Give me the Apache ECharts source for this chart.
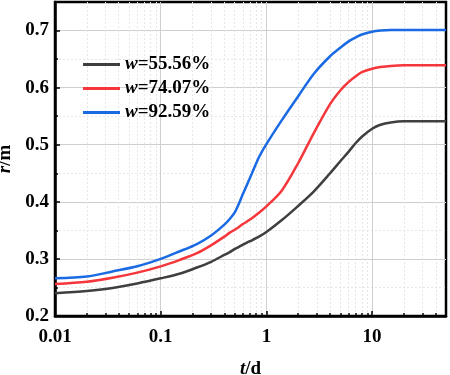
<!DOCTYPE html>
<html>
<head>
<meta charset="utf-8">
<script src="https://cdn.jsdelivr.net/npm/echarts@6.0.0/dist/echarts.min.js"></script>
<style>
  html, body { margin: 0; padding: 0; background: #fff; }
  #chart { width: 450px; height: 375px; }
</style>
</head>
<body>
<div id="chart"></div>
<script>
const chart = echarts.init(document.getElementById('chart'))

// t/d
const tValues = [0.01, 0.02, 0.035, 0.06, 0.1, 0.15, 0.22, 0.3, 0.4, 0.45, 0.5, 0.55, 0.6, 0.7, 0.85, 1, 1.4, 2, 2.8, 4, 5, 6, 7, 8, 10, 12, 15, 20, 50]
// r/m
const w5556 = [0.240, 0.244, 0.249, 0.257, 0.266, 0.274, 0.285, 0.295, 0.307, 0.312, 0.317, 0.321, 0.325, 0.331, 0.339, 0.347, 0.368, 0.393, 0.418, 0.450, 0.471, 0.488, 0.503, 0.514, 0.528, 0.535, 0.539, 0.541, 0.541]
const w7407 = [0.256, 0.260, 0.267, 0.276, 0.287, 0.298, 0.310, 0.324, 0.339, 0.346, 0.351, 0.356, 0.361, 0.369, 0.381, 0.392, 0.420, 0.468, 0.520, 0.571, 0.595, 0.610, 0.620, 0.627, 0.633, 0.636, 0.638, 0.639, 0.639]
const w9259 = [0.266, 0.269, 0.278, 0.287, 0.300, 0.313, 0.326, 0.341, 0.360, 0.370, 0.381, 0.397, 0.414, 0.442, 0.478, 0.501, 0.543, 0.585, 0.624, 0.655, 0.670, 0.681, 0.688, 0.693, 0.698, 0.700, 0.701, 0.701, 0.701]

const seriesNames = ['w=55.56%', 'w=74.07%', 'w=92.59%']
const seriesColors = ['#3f3f3f', '#f5363b', '#1a6be3']

// 刻度
const xMinorTicks = [0.02, 0.03, 0.04, 0.05, 0.06, 0.07, 0.08, 0.09, 0.2, 0.3, 0.4, 0.5, 0.6, 0.7, 0.8, 0.9, 2, 3, 4, 5, 6, 7, 8, 9, 20, 30, 40]
const yMinorTicks = [0.25, 0.35, 0.45, 0.55, 0.65]

const font = '"Liberation Serif", "Times New Roman", serif'
const rich = { i: { fontStyle: 'italic', fontWeight: 'bold', fontFamily: font, fontSize: 19 } }

const pairs = (ys) => tValues.map((t, i) => [t, ys[i]])

const option = {
  animation: false,
  grid: {
    left: 55, right: 4, top: 2, bottom: 59,
    outerBoundsMode: 'none',
    containLabel: false,
    show: true, borderColor: '#000', borderWidth: 2.5,
  },
  legend: {
    orient: 'vertical',
    left: 78,
    top: 50,
    icon: 'rect',
    itemWidth: 37,
    itemHeight: 3,
    itemGap: 5,
    data: seriesNames,
    formatter: (name) => '{i|w}' + name.slice(1),
    textStyle: { fontFamily: font, fontWeight: 'bold', fontSize: 19, lineHeight: 19, color: '#000', rich },
  },
  xAxis: [
    {
      type: 'log',
      logBase: 10,
      min: 0.01,
      max: 50,
      name: '{i|t}/d',
      nameLocation: 'middle',
      nameGap: 44,
      nameTextStyle: { fontFamily: font, fontWeight: 'bold', fontSize: 19, color: '#000', rich },
      axisLine: { show: true, onZero: false, lineStyle: { color: '#000', width: 2.5 } },
      axisTick: { inside: true, length: 5, lineStyle: { color: '#000', width: 1.5 } },
      axisLabel: {
        showMaxLabel: false,
        margin: 12,
        fontFamily: font, fontWeight: 'bold', fontSize: 19, color: '#000',
        formatter: (v) => String(+v.toPrecision(3)),
      },
      splitLine: { show: true, showMinLine: false, showMaxLine: false, lineStyle: { color: '#cfcfcf', width: 1 } },
    },
    {
      type: 'log',
      logBase: 10,
      min: 0.01,
      max: 50,
      position: 'bottom',
      axisLine: { show: false },
      axisLabel: { show: false },
      axisTick: { show: true, inside: true, length: 3, customValues: xMinorTicks, lineStyle: { color: '#000', width: 1.5 } },
      splitLine: { show: true, lineStyle: { color: '#e6e6e6', width: 1, type: [2, 2] } },
    },
  ],
  yAxis: [
    {
      type: 'value',
      min: 0.2,
      max: 0.75,
      interval: 0.1,
      name: '{i|r}/m',
      nameLocation: 'middle',
      nameGap: 31,
      nameTextStyle: { fontFamily: font, fontWeight: 'bold', fontSize: 19, color: '#000', rich },
      axisLine: { show: true, onZero: false, lineStyle: { color: '#000', width: 2.5 } },
      axisTick: { show: true, inside: true, length: 5, lineStyle: { color: '#000', width: 1.5 } },
      axisLabel: {
        showMaxLabel: false,
        margin: 6,
        fontFamily: font, fontWeight: 'bold', fontSize: 19, color: '#000',
        formatter: (v) => v.toFixed(1),
      },
      splitLine: { show: true, showMinLine: false, showMaxLine: false, lineStyle: { color: '#cfcfcf', width: 1 } },
    },
    {
      type: 'value',
      min: 0.2,
      max: 0.75,
      position: 'left',
      axisLine: { show: false },
      axisLabel: { show: false },
      axisTick: { show: true, inside: true, length: 3, customValues: yMinorTicks, lineStyle: { color: '#000', width: 1.5 } },
      splitLine: { show: true, lineStyle: { color: '#e6e6e6', width: 1, type: [2, 2] } },
    },
  ],
  series: [w5556, w7407, w9259].map((ys, i) => ({
    name: seriesNames[i],
    type: 'line',
    data: pairs(ys),
    smooth: 0.3,
    showSymbol: false,
    z: 5,
    lineStyle: { color: seriesColors[i], width: 2.5 },
    itemStyle: { color: seriesColors[i] },
  })),
}

chart.setOption(option)
</script>
</body>
</html>
